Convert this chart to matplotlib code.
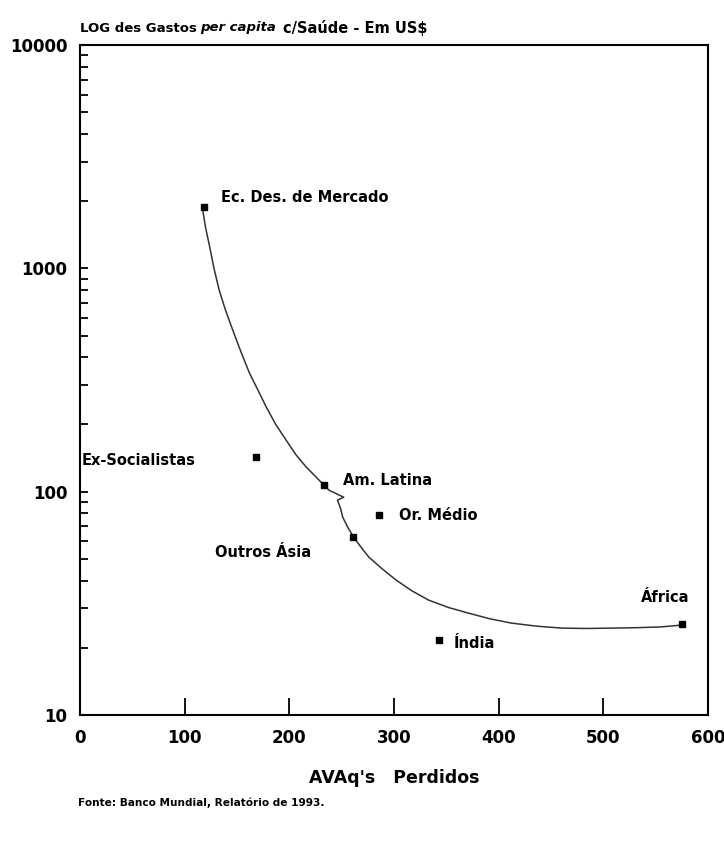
import matplotlib
matplotlib.use('Agg')
import matplotlib.pyplot as plt
from matplotlib.ticker import LogLocator, FixedLocator, NullFormatter

# regioes: (nome, AVAq perdidos, gasto per capita US$)
regioes = ["Ec. Des. de Mercado", "Ex-Socialistas", "Am. Latina", "Or. Médio",
           "Outros Ásia", "Índia", "África"]
avaq = [118, 168, 233, 286, 261, 343, 575]
gasto = [1880, 143, 107, 78.5, 62.5, 21.7, 25.5]

# posicao dos rotulos (dados)
rot_x = [135, 2, 251, 305, 129, 357, 582]
rot_y = [2080, 138, 112, 78.5, 53.6, 21.0, 33.7]
rot_ha = ["left", "left", "left", "left", "left", "left", "right"]

# curva tracada a mao no original
curva_x = [117, 120, 124, 128, 133, 139, 146, 154, 162, 170, 178, 187, 197,
           206, 216, 225, 233, 238, 252, 246, 249, 251, 256, 262, 269, 276,
           289, 302, 317, 333, 352, 371, 391, 412, 436, 460, 484, 508, 532,
           555, 576]
curva_y = [1854, 1520, 1242, 1000, 798, 650, 528, 420, 339, 285, 239, 200,
           170, 147, 129, 117, 107, 101.5, 94.4, 91.6, 84, 76.9, 69, 62,
           56, 50.9, 45, 40.2, 36, 32.7, 30.3, 28.6, 27, 25.8, 25.0, 24.5,
           24.4, 24.5, 24.6, 24.8, 25.3]

xticks = [0, 100, 200, 300, 400, 500, 600]
yticks = [10, 100, 1000, 10000]

plt.rcParams['font.family'] = ['DejaVu Sans']
plt.rcParams['font.weight'] = 'bold'

fig = plt.figure(figsize=(7.24, 8.43), dpi=100)
ax = fig.add_axes([80 / 724, 1 - 715 / 843, 628 / 724, 670 / 843])

ax.plot(curva_x, curva_y, color='#333333', lw=1.1)
ax.plot(avaq, gasto, 's', color='black', markersize=4)

for nome, x, y, ha in zip(regioes, rot_x, rot_y, rot_ha):
    ax.text(x, y, nome, ha=ha, va='center', fontsize=10.5, fontweight='bold')

ax.set_yscale('log')
ax.set_xlim(0, 600)
ax.set_ylim(10, 10000)

ax.xaxis.set_major_locator(FixedLocator(xticks))
ax.set_xticklabels([str(t) for t in xticks], fontsize=12)
ax.yaxis.set_major_locator(FixedLocator(yticks))
ax.set_yticklabels([str(t) for t in yticks], fontsize=12)
ax.yaxis.set_minor_locator(LogLocator(base=10, subs=range(2, 10)))
ax.yaxis.set_minor_formatter(NullFormatter())

ax.tick_params(axis='x', direction='in', length=12, width=1.3, pad=10)
ax.tick_params(axis='y', which='major', direction='in', length=6, width=1.3, pad=9)
ax.tick_params(axis='y', which='minor', direction='in', length=6, width=1.3)

for s in ax.spines.values():
    s.set_linewidth(1.5)

ax.set_xlabel("AVAq's   Perdidos", fontsize=12.5, fontweight='bold', labelpad=16)

ty = 1 - 28 / 843
fig.text(80 / 724, ty, "LOG des Gastos", fontsize=9.5,
         fontweight='bold', va='center')
fig.text(200 / 724, ty, "per capita", fontsize=9.5,
         fontweight='bold', style='italic', va='center')
fig.text(283 / 724, ty, "c/Saúde - Em US$", fontsize=10.5,
         fontweight='bold', va='center')

fig.text(78 / 724, 1 - 803 / 843, "Fonte: Banco Mundial, Relatório de 1993.",
         fontsize=7.6, fontweight='bold', va='center')

fig.savefig('out.png', dpi=100, facecolor='white')
plt.close(fig)
